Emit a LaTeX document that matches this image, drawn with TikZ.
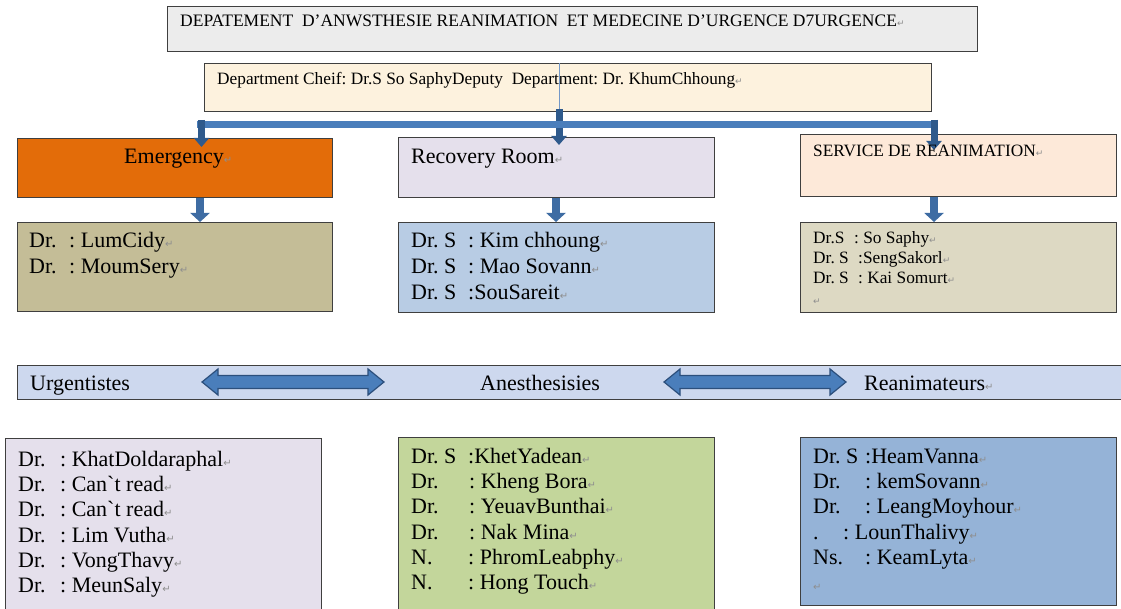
\documentclass[tikz,border=0pt]{standalone}
\usepackage{fontspec}
\setmainfont{Liberation Serif}
\newfontfamily\symfont{DejaVu Sans}
\usetikzlibrary{arrows.meta}

\definecolor{edge}{HTML}{3F3F3F}
\definecolor{titlefill}{HTML}{ECECEC}
\definecolor{chieffill}{HTML}{FDF2DE}
\definecolor{barblue}{HTML}{4A7EBB}
\definecolor{dropblue}{HTML}{2F5A8C}
\definecolor{arrowblue}{HTML}{3E6CA3}
\definecolor{tapblue}{HTML}{7398C8}
\definecolor{dbledge}{HTML}{2C4F7C}
\definecolor{emergfill}{HTML}{E36C09}
\definecolor{lilac}{HTML}{E5E0EC}
\definecolor{peach}{HTML}{FDE9D9}
\definecolor{khaki}{HTML}{C4BD97}
\definecolor{paleblue}{HTML}{B8CCE4}
\definecolor{stone}{HTML}{DDD9C3}
\definecolor{bannerfill}{HTML}{CDD8EE}
\definecolor{leaf}{HTML}{C3D69B}
\definecolor{steel}{HTML}{95B3D7}
\definecolor{markgrey}{HTML}{8E8E8E}

% paragraph mark after each line, a fixed-width label before the colon,
% and a plain grave accent glyph (bypassing the TeX quote mapping)
\newcommand\parmark[1][10]{{\symfont\fontsize{#1}{#1}\selectfont\textcolor{markgrey}{↵}}}
\newcommand\lab[2]{\makebox[#1pt][l]{#2}}
\newcommand\backtick{\XeTeXglyph\XeTeXcharglyph"60\relax}

\begin{document}
\frenchspacing
\begin{tikzpicture}[x=1pt, y=-1pt,
  box/.style={draw=edge, line width=1.2pt, rectangle, inner sep=0pt, anchor=north west},
  txt/.style={anchor=base west, inner sep=0pt, font=\fontsize{22}{26}\selectfont},
  smalltxt/.style={anchor=base west, inner sep=0pt, font=\fontsize{17.3}{20}\selectfont},
  bar/.style={draw=barblue, line width=7pt},
  drop/.style={draw=dropblue, line width=7pt, -{Triangle[width=15pt,length=9pt]}},
  down/.style={draw=arrowblue, line width=8pt, -{Triangle[width=19pt,length=9pt]}},
  tap/.style={draw=tapblue, line width=1pt},
  dblarrow/.pic={
    \draw[fill=barblue, draw=dbledge, line width=1.2pt, line join=miter]
      (0,0) -- (16,-13) -- (16,-6.5) -- (166,-6.5) -- (166,-13) -- (182,0)
      -- (166,13) -- (166,6.5) -- (16,6.5) -- (16,13) -- cycle;
  }]
\path[use as bounding box, fill=white] (0,0) rectangle (1121,609);

% header
\node[box, fill=titlefill, minimum width=810pt, minimum height=45pt] (title) at (167,6) {};
\node[anchor=base west, inner sep=0pt, font=\fontsize{17.5}{20}\selectfont] (titleT) at (180,27)
  {DEPATEMENT\ \ D’ANWSTHESIE REANIMATION\ \ ET MEDECINE D’URGENCE D7URGENCE\parmark[9]};
\node[box, fill=chieffill, minimum width=727pt, minimum height=48pt] (chief) at (204,63) {};
\node[smalltxt] (chiefT) at (217,85)
  {Department Cheif: Dr.S So SaphyDeputy\ \ Department: Dr. KhumChhoung\parmark[9]};

% first row of services
\node[box, fill=emergfill, minimum width=315pt, minimum height=59pt] (emerg) at (17,138) {};
\node[txt] (emergT) at (124,164) {Emergency\parmark};
\node[box, fill=lilac, minimum width=316pt, minimum height=60pt] (recov) at (398,137) {};
\node[txt] (recovT) at (411,164) {Recovery Room\parmark};
\node[box, fill=peach, minimum width=316pt, minimum height=62pt] (serv) at (800,134) {};

% connectors from the department box
\coordinate (tapX) at (559,124.5);
\coordinate (barL) at (197,124.5);
\coordinate (barR) at (938,124.5);
\coordinate (dropL) at (201.5,120);
\coordinate (dropR) at (934,120);
\draw[tap] (tapX |- chief.north) -- ([yshift=3pt]tapX |- chief.south);
\draw[drop] ([yshift=3pt]tapX |- chief.south) -- ([yshift=-8pt]tapX |- recov.north);
\draw[bar] (barL) -- (barR);
\draw[drop] (dropL) -- ([yshift=-9pt]emerg.north -| dropL);
\draw[drop] (dropR) -- ([yshift=-16pt]serv.north -| dropR);
\node[smalltxt] (servT) at (813,157) {SERVICE DE REANIMATION\parmark[9]};

% staff of each service
\node[box, fill=khaki, minimum width=315pt, minimum height=89pt] (emergS) at (17,222) {};
\node[txt] (e1) at (29,248) {\lab{40}{Dr.}: LumCidy\parmark};
\node[txt] (e2) at (29,274) {\lab{40}{Dr.}: MoumSery\parmark};

\node[box, fill=paleblue, minimum width=316pt, minimum height=90pt] (recovS) at (398,222) {};
\node[txt] (r1) at (411,248) {\lab{57}{Dr. S}: Kim chhoung\parmark};
\node[txt] (r2) at (411,274) {\lab{57}{Dr. S}: Mao Sovann\parmark};
\node[txt] (r3) at (411,300) {\lab{57}{Dr. S}:SouSareit\parmark};

\node[box, fill=stone, minimum width=316pt, minimum height=90pt] (servS) at (800,222) {};
\node[smalltxt] (s1) at (813,244) {\lab{41}{Dr.S}: So Saphy\parmark[9]};
\node[smalltxt] (s2) at (813,264) {\lab{45}{Dr. S}:SengSakorl\parmark[9]};
\node[smalltxt] (s3) at (813,284) {\lab{45}{Dr. S}: Kai Somurt\parmark[9]};
\node[smalltxt] (s4) at (813,305) {\parmark[9]};

\coordinate (colL) at (200,0);
\coordinate (colM) at (556,0);
\coordinate (colR) at (934,0);
\draw[down] (emerg.south -| colL) -- (emergS.north -| colL);
\draw[down] (recov.south -| colM) -- (recovS.north -| colM);
\draw[down] (serv.south -| colR) -- (servS.north -| colR);

% specialty banner
\node[box, fill=bannerfill, minimum width=1115pt, minimum height=34pt] (banner) at (17,365) {};
\node[txt] (urg) at (30,390) {Urgentistes};
\node[txt] (anes) at (480,390) {Anesthesisies};
\node[txt] (rean) at (864,390) {Reanimateurs\parmark};
\pic at (202,382) {dblarrow};
\pic at (664,382) {dblarrow};

% teams
\node[box, fill=lilac, minimum width=316pt, minimum height=180pt] (urgS) at (5,438) {};
\node[txt] (u1) at (18,466) {\lab{42}{Dr.}: KhatDoldaraphal\parmark};
\node[txt] (u2) at (18,491.3) {\lab{42}{Dr.}: Can\backtick t read\parmark};
\node[txt] (u3) at (18,516.6) {\lab{42}{Dr.}: Can\backtick t read\parmark};
\node[txt] (u4) at (18,542) {\lab{42}{Dr.}: Lim Vutha\parmark};
\node[txt] (u5) at (18,567.3) {\lab{42}{Dr.}: VongThavy\parmark};
\node[txt] (u6) at (18,592.6) {\lab{42}{Dr.}: MeunSaly\parmark};

\node[box, fill=leaf, minimum width=316pt, minimum height=180pt] (anesS) at (398,437) {};
\node[txt] (a1) at (411,463) {\lab{57}{Dr. S}:KhetYadean\parmark};
\node[txt] (a2) at (411,488.3) {\lab{58}{Dr.}: Kheng Bora\parmark};
\node[txt] (a3) at (411,513.6) {\lab{58}{Dr.}: YeuavBunthai\parmark};
\node[txt] (a4) at (411,539) {\lab{58}{Dr.}: Nak Mina\parmark};
\node[txt] (a5) at (411,564.3) {\lab{57}{N.}: PhromLeabphy\parmark};
\node[txt] (a6) at (411,589.6) {\lab{57}{N.}: Hong Touch\parmark};

\node[box, fill=steel, minimum width=316pt, minimum height=168pt] (reanS) at (800,437) {};
\node[txt] (n1) at (813,463) {\lab{52}{Dr. S}:HeamVanna\parmark};
\node[txt] (n2) at (813,488.3) {\lab{52}{Dr.}: kemSovann\parmark};
\node[txt] (n3) at (813,513.6) {\lab{52}{Dr.}: LeangMoyhour\parmark};
\node[txt] (n4) at (813,539) {\lab{30}{.}: LounThalivy\parmark};
\node[txt] (n5) at (813,564.3) {\lab{52}{Ns.}: KeamLyta\parmark};
\node[txt] (n6) at (813,590) {\parmark};
\end{tikzpicture}
\end{document}
